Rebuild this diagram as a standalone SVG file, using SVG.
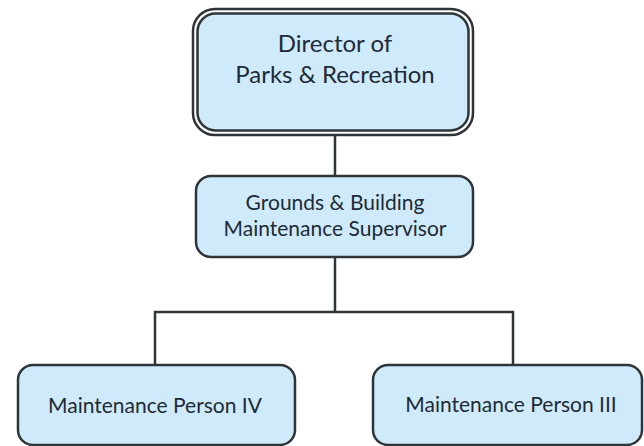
<svg xmlns="http://www.w3.org/2000/svg" width="644" height="446" viewBox="0 0 644 446">
<style>
.box{fill:#cfeafb;stroke:#2f3438;stroke-width:2.5}
.line{fill:none;stroke:#2f3438;stroke-width:2.5}
.t{font-family:Lato,"Open Sans",sans-serif;fill:#1e2a36;text-anchor:middle}
</style>
<rect width="644" height="446" fill="#ffffff"/>
<g id="connectors">
<path class="line" d="M335,135 V176"/>
<path class="line" d="M335,257 V312"/>
<path class="line" d="M155,365 V312 H513 V365"/>
</g>
<g id="director">
<rect x="193" y="9" width="280" height="126" rx="22" fill="#ffffff" stroke="#2f3438" stroke-width="2.5"/>
<rect class="box" x="197.5" y="13.5" width="271" height="117" rx="18"/>
<text class="t" x="335" y="52" font-size="24">Director of</text>
<text class="t" x="335" y="83" font-size="24">Parks &amp; Recreation</text>
</g>
<g id="supervisor">
<rect class="box" x="196" y="176" width="277" height="81" rx="15"/>
<text class="t" x="335" y="210" font-size="21">Grounds &amp; Building</text>
<text class="t" x="335" y="236" font-size="21">Maintenance Supervisor</text>
</g>
<g id="person4">
<rect class="box" x="18" y="365" width="277" height="80" rx="15"/>
<text class="t" x="155" y="413" font-size="21">Maintenance Person IV</text>
</g>
<g id="person3">
<rect class="box" x="373" y="365" width="269" height="80" rx="15"/>
<text class="t" x="511" y="412" font-size="21">Maintenance Person III</text>
</g>
</svg>
